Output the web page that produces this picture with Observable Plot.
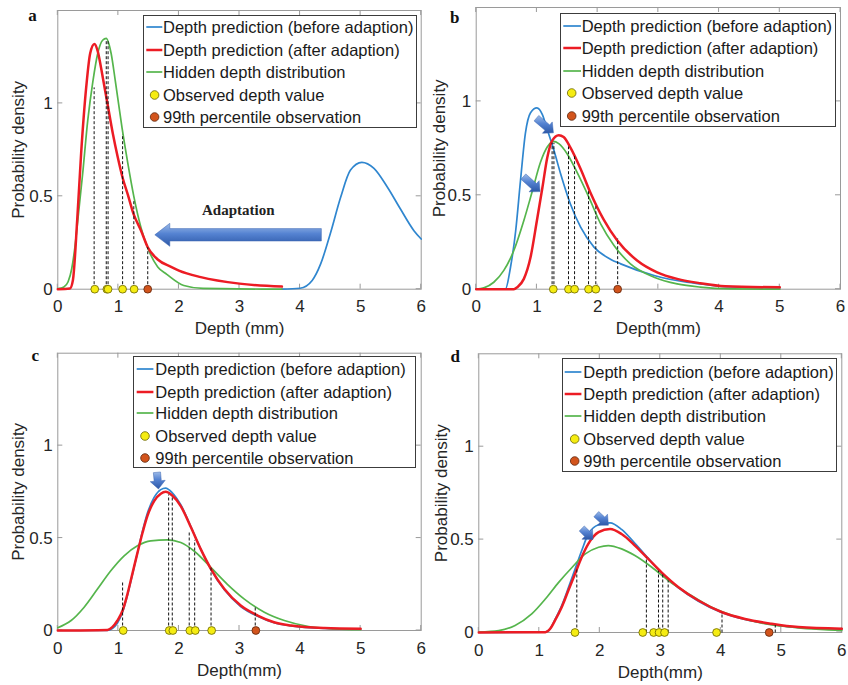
<!DOCTYPE html>
<html>
<head>
<meta charset="utf-8">
<script src="https://cdn.jsdelivr.net/npm/d3@7"></script>
<script src="https://cdn.jsdelivr.net/npm/@observablehq/plot@0.6"></script>
<style>
  body { margin: 0; background: #fff; }
  #root { position: relative; width: 848px; height: 685px; overflow: hidden; font-family: "Liberation Sans", Arial, sans-serif; background: #fff; }
  .panel { position: absolute; }
  .panel svg { overflow: visible; background: transparent; }
  .legend { position: absolute; background: #fff; border: 1px solid #3c3c3c; box-sizing: border-box; font-size: 16.5px; color: #1a1a1a; }
  .legend .row { position: absolute; height: 22px; line-height: 22px; white-space: nowrap; }
  .legend svg.sw { position: absolute; overflow: visible; }
  .tag { position: absolute; font-family: "Liberation Serif", "Times New Roman", serif; font-weight: bold; font-size: 17px; line-height: 17px; color: #111; }
</style>
</head>
<body>
<div id="root"></div>
<script>
// ---------- shared axis data ----------
const xTicks = [0, 1, 2, 3, 4, 5, 6];
const yTicks = [0, 0.5, 1];
const seriesNames = [
  "Depth prediction (before adaption)",
  "Depth prediction (after adaption)",
  "Hidden depth distribution",
  "Observed depth value",
  "99th percentile observation"
];

// ---------- panel a ----------
const aBlueX = [3.7, 4.0, 4.2, 4.34, 4.5, 4.67, 4.83, 5.02, 5.22, 5.44, 5.66, 5.88, 6.0];
const aBlueY = [0, 0.005, 0.047, 0.136, 0.30, 0.495, 0.64, 0.683, 0.65, 0.55, 0.43, 0.315, 0.27];
const aRedX = [0, 0.2, 0.25, 0.32, 0.385, 0.47, 0.535, 0.605, 0.66, 0.715, 0.77, 0.825, 0.91, 0.99, 1.07, 1.155, 1.25, 1.375, 1.485, 1.65, 1.87, 2.0, 2.36, 3.0, 3.7];
const aRedY = [0, 0.004, 0.05, 0.37, 0.73, 1.09, 1.27, 1.32, 1.28, 1.19, 1.09, 0.99, 0.835, 0.71, 0.60, 0.51, 0.405, 0.315, 0.226, 0.16, 0.12, 0.10, 0.065, 0.03, 0.014];
const aGreenX = [0, 0.1, 0.17, 0.23, 0.28, 0.33, 0.41, 0.495, 0.58, 0.66, 0.74, 0.80, 0.88, 0.95, 1.06, 1.155, 1.255, 1.375, 1.475, 1.65, 1.8, 2.08, 2.4, 3.7];
const aGreenY = [0.003, 0.012, 0.04, 0.11, 0.22, 0.37, 0.62, 0.91, 1.12, 1.27, 1.34, 1.35, 1.27, 1.12, 0.87, 0.68, 0.50, 0.33, 0.23, 0.12, 0.08, 0.02, 0.004, 0];
const aObs = [0.61, 0.81, 0.83, 1.07, 1.26];
const aP99 = [1.485];
const aDashX = [0.60, 0.80, 0.83, 1.07, 1.255, 1.485];
const aDashTop = [1.086, 1.34, 1.34, 0.835, 0.48, 0.226];
const aArrow = [[4.36, 0.29, 1.61, 0.29]];
const aNote = ["Adaptation"];
const aNoteX = [2.98];
const aNoteY = [0.423];

// ---------- panel b ----------
const bBlueX = [0, 0.48, 0.565, 0.65, 0.73, 0.81, 0.895, 1.0, 1.09, 1.17, 1.28, 1.39, 1.55, 1.72, 1.94, 2.21, 2.38, 2.93, 3.47, 3.69, 4.09, 5.0];
const bBlueY = [0, 0, 0.117, 0.31, 0.58, 0.83, 0.94, 0.966, 0.93, 0.85, 0.74, 0.615, 0.455, 0.33, 0.224, 0.16, 0.135, 0.073, 0.037, 0.028, 0.014, 0.007];
const bRedX = [0, 0.62, 0.675, 0.785, 0.895, 1.0, 1.09, 1.17, 1.25, 1.36, 1.44, 1.55, 1.72, 1.88, 2.10, 2.32, 2.65, 2.98, 3.31, 3.69, 4.1, 5.0];
const bRedY = [0, 0, 0.01, 0.055, 0.17, 0.366, 0.54, 0.70, 0.79, 0.82, 0.81, 0.755, 0.64, 0.515, 0.37, 0.26, 0.153, 0.09, 0.055, 0.032, 0.016, 0.01];
const bGreenX = [0, 0.126, 0.29, 0.455, 0.62, 0.785, 0.92, 1.06, 1.17, 1.27, 1.36, 1.50, 1.66, 1.855, 2.05, 2.27, 2.54, 2.93, 3.31, 3.69, 4.2, 5.0];
const bGreenY = [0, 0.007, 0.037, 0.10, 0.206, 0.366, 0.517, 0.677, 0.757, 0.787, 0.775, 0.72, 0.623, 0.49, 0.348, 0.233, 0.135, 0.064, 0.028, 0.011, 0.002, 0];
const bObs = [1.27, 1.52, 1.62, 1.85, 1.97];
const bP99 = [2.33];
const bDashX = [1.25, 1.28, 1.52, 1.62, 1.85, 1.97, 2.33];
const bDashTop = [0.78, 0.78, 0.76, 0.71, 0.53, 0.45, 0.27];
const bArrows = [[1.00, 0.908, 1.28, 0.83], [0.785, 0.597, 1.06, 0.517]];

// ---------- panel c ----------
const cRedX = [0, 0.82, 0.90, 0.985, 1.07, 1.15, 1.23, 1.315, 1.40, 1.48, 1.59, 1.70, 1.78, 1.89, 2.03, 2.20, 2.36, 2.53, 2.75, 3.02, 3.30, 3.57, 3.85, 4.40, 5.0];
const cRedY = [0, 0.003, 0.018, 0.054, 0.108, 0.197, 0.305, 0.42, 0.53, 0.62, 0.70, 0.74, 0.75, 0.73, 0.673, 0.557, 0.44, 0.332, 0.224, 0.135, 0.081, 0.045, 0.027, 0.013, 0.009];
const cBlueX = cRedX;
const cBlueY = [0, 0, 0.01, 0.04, 0.10, 0.19, 0.30, 0.42, 0.54, 0.635, 0.72, 0.762, 0.77, 0.745, 0.68, 0.56, 0.44, 0.33, 0.22, 0.13, 0.077, 0.042, 0.025, 0.011, 0.007];
const cGreenX = [0, 0.22, 0.435, 0.655, 0.875, 1.095, 1.315, 1.535, 1.81, 2.03, 2.25, 2.53, 2.80, 3.08, 3.41, 3.74, 4.12, 4.56, 5.0];
const cGreenY = [0.015, 0.054, 0.126, 0.224, 0.323, 0.404, 0.458, 0.485, 0.49, 0.476, 0.43, 0.34, 0.25, 0.17, 0.099, 0.054, 0.023, 0.009, 0.004];
const cObs = [1.08, 1.84, 1.90, 2.18, 2.27, 2.54];
const cP99 = [3.27];
const cDashX = [1.07, 1.83, 1.89, 2.17, 2.26, 2.53, 3.26];
const cDashTop = [0.27, 0.736, 0.72, 0.54, 0.49, 0.34, 0.135];
const cArrows = [[1.645, 0.853, 1.67, 0.763]];

// ---------- panel d ----------
const dRedX = [0, 1.1, 1.18, 1.26, 1.37, 1.48, 1.59, 1.70, 1.81, 1.98, 2.17, 2.36, 2.58, 2.80, 3.02, 3.30, 3.63, 4.02, 4.40, 4.84, 5.28, 6.0];
const dRedY = [0, 0.002, 0.02, 0.065, 0.136, 0.226, 0.315, 0.405, 0.477, 0.54, 0.557, 0.53, 0.468, 0.396, 0.324, 0.244, 0.172, 0.109, 0.073, 0.047, 0.029, 0.02];
const dBlueX = dRedX;
const dBlueY = [0, 0.002, 0.02, 0.07, 0.145, 0.24, 0.34, 0.44, 0.53, 0.58, 0.59, 0.555, 0.48, 0.40, 0.32, 0.24, 0.168, 0.106, 0.07, 0.044, 0.027, 0.018];
const dGreenX = [0, 0.33, 0.6, 0.875, 1.10, 1.32, 1.54, 1.76, 1.98, 2.14, 2.36, 2.58, 2.86, 3.13, 3.47, 3.85, 4.29, 4.73, 5.28, 6.0];
const dGreenY = [0.002, 0.01, 0.038, 0.10, 0.18, 0.27, 0.35, 0.423, 0.459, 0.468, 0.45, 0.414, 0.351, 0.28, 0.208, 0.136, 0.082, 0.047, 0.025, 0.011];
const dObs = [1.59, 2.71, 2.89, 2.98, 3.07, 3.93];
const dP99 = [4.80];
const dDashX = [1.62, 2.77, 2.97, 3.04, 3.13, 4.02, 4.90];
const dDashTop = [0.342, 0.405, 0.333, 0.315, 0.28, 0.109, 0.04];
const dArrows = [[1.71, 0.557, 1.895, 0.498], [1.95, 0.634, 2.15, 0.575]];

// ---------- styling ----------
const C = {blue: "#2f86cf", red: "#ec1c24", green: "#55b54c", yellow: "#f5ec12", yellowStroke: "#6a6400", orange: "#d2541c", orangeStroke: "#5e260c", frame: "#9a9a9a", text: "#262626"};

const panels = [
  {tag: "a", left: 0, top: 0, height: 340, mL: 57.3, mR: 3.3, mT: 10, mB: 51.3, xLabel: "Depth (mm)", yDx: -39.3, xDy: 39.3,
   blue: [aBlueX, aBlueY], red: [aRedX, aRedY], green: [aGreenX, aGreenY], obs: aObs, p99: aP99, dashX: aDashX, dashTop: aDashTop,
   arrows: aArrow, aw: 6.2, ahw: 11.5, ahl: 15, note: true,
   legend: {left: 142.7, top: 15, w: 274, h: 113.3, rows: [12.3, 35, 57.3, 80, 102.3], sw: [2.3, 18.3], mk: 10.6, tx: 19.3},
   tagPos: [28.3, 6.5]},
  {tag: "b", left: 424, top: 0, height: 340, mL: 51.7, mR: 8, mT: 7, mB: 51.3, xLabel: "Depth(mm)", yDx: -36.7, xDy: 39.3,
   blue: [bBlueX, bBlueY], red: [bRedX, bRedY], green: [bGreenX, bGreenY], obs: bObs, p99: bP99, dashX: bDashX, dashTop: bDashTop,
   arrows: bArrows, aw: 3.6, ahw: 7.5, ahl: 8,
   legend: {left: 560, top: 12.7, w: 275.7, h: 114, rows: [13.3, 35.6, 58, 80.6, 103.3], sw: [2.3, 20], mk: 10.7, tx: 20.7},
   tagPos: [450, 8.8]},
  {tag: "c", left: 0, top: 340, height: 345, mL: 57.3, mR: 3.3, mT: 12.7, mB: 55, xLabel: "Depth(mm)", yDx: -39.3, xDy: 40,
   blue: [cBlueX, cBlueY], red: [cRedX, cRedY], green: [cGreenX, cGreenY], obs: cObs, p99: cP99, dashX: cDashX, dashTop: cDashTop,
   arrows: cArrows, aw: 3.6, ahw: 7.5, ahl: 8,
   legend: {left: 133.3, top: 356, w: 282.7, h: 112.3, rows: [13.3, 35.7, 57.3, 79.7, 102.3], sw: [2.7, 19.4], mk: 11, tx: 21},
   tagPos: [31.5, 346.8]},
  {tag: "d", left: 424, top: 340, height: 345, mL: 54.3, mR: 6.7, mT: 13.3, mB: 53, xLabel: "Depth(mm)", yDx: -37.6, xDy: 39.7,
   blue: [dBlueX, dBlueY], red: [dRedX, dRedY], green: [dGreenX, dGreenY], obs: dObs, p99: dP99, dashX: dDashX, dashTop: dDashTop,
   arrows: dArrows, aw: 3.6, ahw: 7.5, ahl: 8,
   legend: {left: 562.3, top: 357.7, w: 275, h: 114, rows: [14, 36.3, 58.6, 81.3, 103.3], sw: [1.7, 18.4], mk: 11.7, tx: 20},
   tagPos: [450.5, 347.5]}
];

const toRows = ([xs, ys]) => xs.map((x, i) => ({x, y: ys[i]}));

// inward MATLAB-style ticks on all four sides, placed through the plot's scales
function boxTicks(index, scales, values, dim) {
  const g = d3.create("svg:g").attr("stroke", C.frame).attr("stroke-width", 1);
  const x0 = dim.marginLeft, x1 = dim.width - dim.marginRight;
  const y0 = dim.marginTop, y1 = dim.height - dim.marginBottom;
  const L = 5;
  for (const t of xTicks) {
    const px = scales.x(t);
    g.append("line").attr("x1", px).attr("x2", px).attr("y1", y1).attr("y2", y1 - L);
    g.append("line").attr("x1", px).attr("x2", px).attr("y1", y0).attr("y2", y0 + L);
  }
  for (const t of yTicks) {
    const py = scales.y(t);
    g.append("line").attr("y1", py).attr("y2", py).attr("x1", x0).attr("x2", x0 + L);
    g.append("line").attr("y1", py).attr("y2", py).attr("x1", x1).attr("x2", x1 - L);
  }
  return g.node();
}

// block arrows drawn through the plot's scales
function blockArrows(list, w, hw, hl, gid) {
  return (index, scales) => {
    const g = d3.create("svg:g");
    const defs = g.append("defs");
    const grad = defs.append("linearGradient").attr("id", gid).attr("x1", 0).attr("y1", 0).attr("x2", 0).attr("y2", 1);
    grad.append("stop").attr("offset", 0).attr("stop-color", "#9dbbe8");
    grad.append("stop").attr("offset", 0.45).attr("stop-color", "#5583d2");
    grad.append("stop").attr("offset", 1).attr("stop-color", "#2c57a6");
    for (const [ax, ay, bx, by] of list) {
      const p1 = [scales.x(ax), scales.y(ay)], p2 = [scales.x(bx), scales.y(by)];
      const dx = p2[0] - p1[0], dy = p2[1] - p1[1], len = Math.hypot(dx, dy);
      const u = [dx / len, dy / len], n = [-u[1], u[0]];
      const b = [p2[0] - u[0] * hl, p2[1] - u[1] * hl];
      const pts = [
        [p1[0] + n[0] * w, p1[1] + n[1] * w],
        [b[0] + n[0] * w, b[1] + n[1] * w],
        [b[0] + n[0] * hw, b[1] + n[1] * hw],
        p2,
        [b[0] - n[0] * hw, b[1] - n[1] * hw],
        [b[0] - n[0] * w, b[1] - n[1] * w],
        [p1[0] - n[0] * w, p1[1] - n[1] * w]
      ];
      g.append("path").attr("d", "M" + pts.map(p => p.join(",")).join("L") + "Z")
        .attr("fill", `url(#${gid})`).attr("stroke", "#3a64b0").attr("stroke-width", 0.5);
    }
    return g.node();
  };
}

const root = document.getElementById("root");

for (const p of panels) {
  const dashes = p.dashX.map((x, i) => ({x, top: p.dashTop[i]}));
  const marks = [
    Plot.frame({stroke: C.frame, strokeWidth: 1}),
    boxTicks,
    Plot.axisX(xTicks, {anchor: "bottom", tickSize: 0, tickPadding: 11, fontSize: 17, fill: C.text, label: null, tickFormat: d => `${d}`}),
    Plot.axisY(yTicks, {anchor: "left", tickSize: 0, tickPadding: 5, fontSize: 17, fill: C.text, label: null, tickFormat: d => `${d}`}),
    Plot.text([p.xLabel], {frameAnchor: "bottom", dy: p.xDy, textAnchor: "middle", lineAnchor: "middle", fontSize: 17, fill: C.text, text: d => d}),
    Plot.text(["Probability density"], {frameAnchor: "left", rotate: -90, dx: p.yDx, textAnchor: "middle", lineAnchor: "middle", fontSize: 17, fill: C.text, text: d => d}),
  ];
  if (p.note) {
    marks.push(Plot.text(aNote, {x: (d, i) => aNoteX[i], y: (d, i) => aNoteY[i], text: d => d, fontFamily: "Liberation Serif, Times New Roman, serif", fontWeight: "bold", fontSize: 15, fill: "#222"}));
  }
  marks.push(
    Plot.line(toRows(p.blue), {x: "x", y: "y", stroke: C.blue, strokeWidth: 1.7, curve: "monotone-x"}),
    Plot.line(toRows(p.green), {x: "x", y: "y", stroke: C.green, strokeWidth: 1.7, curve: "monotone-x"}),
    Plot.line(toRows(p.red), {x: "x", y: "y", stroke: C.red, strokeWidth: 2.5, curve: "monotone-x"}),
    Plot.link(dashes, {x1: "x", x2: "x", y1: () => 0, y2: "top", stroke: "#111", strokeWidth: 1, strokeDasharray: "3,2"}),
    Plot.dot(p.obs, {x: d => d, y: () => 0, r: 3.9, fill: C.yellow, stroke: C.yellowStroke, strokeWidth: 0.8}),
    Plot.dot(p.p99, {x: d => d, y: () => 0, r: 3.9, fill: C.orange, stroke: C.orangeStroke, strokeWidth: 0.8}),
    blockArrows(p.arrows, p.aw, p.ahw, p.ahl, "grad-" + p.tag)
  );

  const chart = Plot.plot({
    width: 424, height: p.height,
    marginLeft: p.mL, marginRight: p.mR, marginTop: p.mT, marginBottom: p.mB,
    x: {domain: [0, 6]},
    y: {domain: [0, 1.5]},
    style: {background: "transparent", fontFamily: "Liberation Sans, Arial, sans-serif", fontSize: "17px", overflow: "visible"},
    marks
  });
  const holder = document.createElement("div");
  holder.className = "panel";
  holder.style.left = p.left + "px";
  holder.style.top = p.top + "px";
  holder.appendChild(chart);
  root.appendChild(holder);

  // legend box
  const L = p.legend;
  const lg = document.createElement("div");
  lg.className = "legend";
  Object.assign(lg.style, {left: L.left + "px", top: L.top + "px", width: L.w + "px", height: L.h + "px"});
  seriesNames.forEach((name, i) => {
    const cy = L.rows[i] - 1;
    const sw = d3.create("svg").attr("class", "sw").attr("width", 24).attr("height", 12)
      .style("left", "0px").style("top", (cy - 6) + "px");
    if (i < 3) {
      const col = [C.blue, C.red, C.green][i];
      sw.append("line").attr("x1", L.sw[0]).attr("x2", L.sw[1]).attr("y1", 6).attr("y2", 6)
        .attr("stroke", col).attr("stroke-width", i === 1 ? 2.5 : 1.7);
    } else {
      sw.append("circle").attr("cx", L.mk).attr("cy", 6).attr("r", 4.3)
        .attr("fill", i === 3 ? C.yellow : C.orange).attr("stroke", i === 3 ? C.yellowStroke : C.orangeStroke).attr("stroke-width", 0.8);
    }
    lg.appendChild(sw.node());
    const row = document.createElement("div");
    row.className = "row";
    row.style.left = L.tx + "px";
    row.style.top = (cy - 11) + "px";
    row.textContent = name;
    lg.appendChild(row);
  });
  root.appendChild(lg);

  const tag = document.createElement("div");
  tag.className = "tag";
  tag.style.left = p.tagPos[0] + "px";
  tag.style.top = p.tagPos[1] + "px";
  tag.textContent = p.tag;
  root.appendChild(tag);
}
</script>
</body>
</html>
